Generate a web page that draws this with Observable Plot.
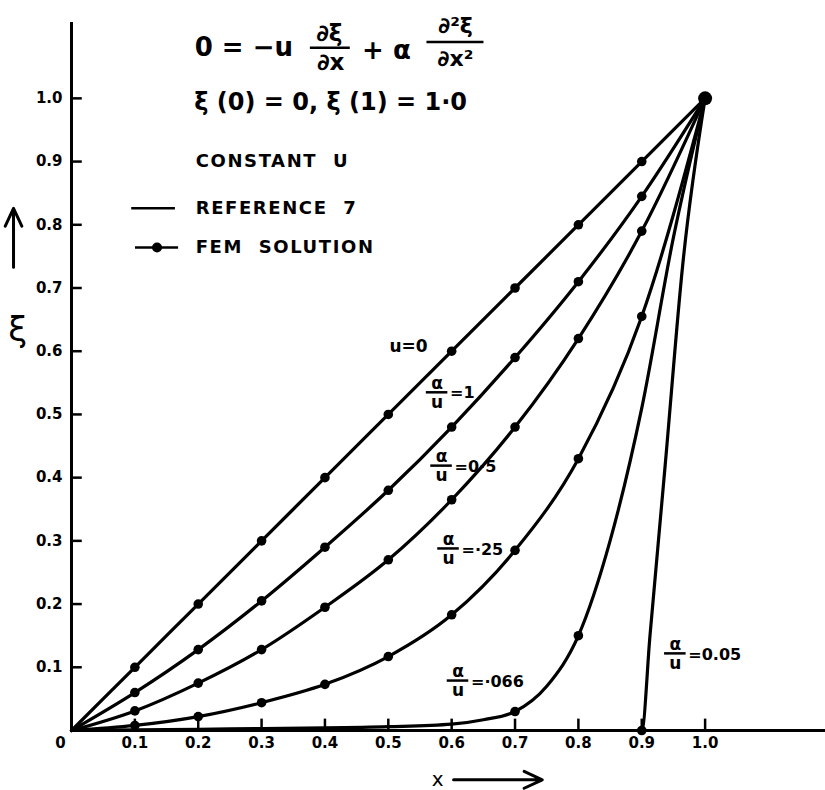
<!DOCTYPE html>
<html><head><meta charset="utf-8">
<script src="https://cdn.jsdelivr.net/npm/d3@7"></script>
<script src="https://cdn.jsdelivr.net/npm/@observablehq/plot@0.6"></script>
<style>body{margin:0;background:#fff}</style>
</head><body><div id="chart"></div>
<script>
// ---- data ----
const xGrid   = [0, 0.1, 0.2, 0.3, 0.4, 0.5, 0.6, 0.7, 0.8, 0.9, 1.0];
const xiU0    = [0, 0.1, 0.2, 0.3, 0.4, 0.5, 0.6, 0.7, 0.8, 0.9, 1.0];
const xiR1    = [0, 0.06, 0.128, 0.205, 0.29, 0.38, 0.48, 0.59, 0.71, 0.845, 1.0];
const xiR05   = [0, 0.031, 0.075, 0.128, 0.195, 0.27, 0.365, 0.48, 0.62, 0.79, 1.0];
const xiR025  = [0, 0.008, 0.022, 0.044, 0.073, 0.117, 0.183, 0.285, 0.43, 0.655, 1.0];
const x066    = [0, 0.1, 0.2, 0.3, 0.4, 0.5, 0.6, 0.65, 0.7, 0.75, 0.8, 0.85, 0.9, 0.95, 1.0];
const xi066   = [0, 0.001, 0.002, 0.003, 0.004, 0.006, 0.01, 0.017, 0.03, 0.07, 0.15, 0.30, 0.51, 0.78, 1.0];
const x005    = [0, 0.9, 0.913, 0.937, 0.965, 1.0];
const xi005   = [0, 0, 0.15, 0.42, 0.74, 1.0];
const femGridX = [0.1, 0.2, 0.3, 0.4, 0.5, 0.6, 0.7, 0.8, 0.9];
const fem066X  = [0.7, 0.8];
const fem005X  = [0.9];
const xTicks = [0.1, 0.2, 0.3, 0.4, 0.5, 0.6, 0.7, 0.8, 0.9, 1.0];
const yTicks = [0.1, 0.2, 0.3, 0.4, 0.5, 0.6, 0.7, 0.8, 0.9, 1.0];

function series(name, xs, ys) { return xs.map((x, i) => ({curve: name, x, y: ys[i]})); }
const sU0 = series("u=0", xGrid, xiU0);
const sR1 = series("1", xGrid, xiR1);
const sR05 = series("0.5", xGrid, xiR05);
const sR025 = series("0.25", xGrid, xiR025);
const s066 = series("0.066", x066, xi066);
const s005 = series("0.05", x005, xi005);
const lines = [...sU0, ...sR1, ...sR05, ...sR025, ...s066, ...s005];
const fem = [
  ...[sU0, sR1, sR05, sR025].flatMap(s => s.filter(d => femGridX.includes(d.x))),
  ...s066.filter(d => fem066X.includes(d.x)),
  ...s005.filter(d => fem005X.includes(d.x))
];
const endPoint = sU0.filter(d => d.x === 1);

// ---- annotations (data coordinates) ----
const eqParts = [
  {x: 0.272, y: 1.080, t: "0 = −u", s: 26},
  {x: 0.407, y: 1.102, t: "∂ξ", s: 23},
  {x: 0.409, y: 1.056, t: "∂x", s: 23},
  {x: 0.497, y: 1.076, t: "+ α", s: 26},
  {x: 0.606, y: 1.114, t: "∂²ξ", s: 22},
  {x: 0.606, y: 1.062, t: "∂x²", s: 22},
  {x: 0.409, y: 0.994, t: "ξ (0) = 0, ξ (1) = 1·0", s: 24}
];
const eqBars = [
  {x1: 0.377, x2: 0.44, y: 1.080},
  {x1: 0.561, x2: 0.651, y: 1.089}
];
const legendText = [
  {x: 0.196, y: 0.900, t: "CONSTANT  U"},
  {x: 0.196, y: 0.826, t: "REFERENCE  7"},
  {x: 0.196, y: 0.764, t: "FEM  SOLUTION"}
];
const legendLines = [
  {x1: 0.095, x2: 0.164, y: 0.826},
  {x1: 0.101, x2: 0.169, y: 0.764}
];
const legendDot = [{x: 0.135, y: 0.764}];
const fracLabels = [
  {x: 0.577, y: 0.535, t: "=1"},
  {x: 0.584, y: 0.419, t: "=0·5"},
  {x: 0.595, y: 0.288, t: "=·25"},
  {x: 0.610, y: 0.079, t: "=·066"},
  {x: 0.953, y: 0.122, t: "=0.05"}
];
const plainLabels = [{x: 0.532, y: 0.608, t: "u=0"}];

const font = "DejaVu Sans";
const chart = Plot.plot({
  width: 825, height: 790,
  marginLeft: 71, marginRight: 0, marginTop: 22, marginBottom: 60,
  x: {domain: [0, 1.19]},
  y: {domain: [0, 1.12]},
  style: {fontFamily: font, fontWeight: "bold", background: "white", color: "black", overflow: "visible"},
  marks: [
    // axes
    Plot.ruleX([0], {y1: 0, y2: 1.12, strokeWidth: 3}),
    Plot.ruleY([0], {x1: 0, x2: 1.19, strokeWidth: 3}),
    Plot.ruleY(yTicks, {y: d => d, x1: 0, x2: 0.017, strokeWidth: 2.5}),
    Plot.ruleX(xTicks, {x: d => d, y1: 0, y2: 0.018, strokeWidth: 2.5}),
    Plot.axisY({ticks: yTicks, tickSize: 0, tickPadding: 9, tickFormat: d3.format(".1f"), fontSize: 15, fontWeight: "bold", label: null}),
    Plot.axisX({ticks: xTicks, tickSize: 0, tickPadding: 7, tickFormat: d3.format(".1f"), fontSize: 15, fontWeight: "bold", label: null}),
    Plot.text([{x: 0, y: 0}], {x: "x", y: "y", text: () => "0", dx: -11, dy: 13, fontSize: 15, fontWeight: "bold"}),
    // axis titles
    Plot.text([{x: -0.085, y: 0.633}], {x: "x", y: "y", text: () => "ξ", fontSize: 34, fontWeight: "normal"}),
    Plot.arrow([{x: -0.0915, y1: 0.733, y2: 0.826}], {x1: "x", x2: "x", y1: "y1", y2: "y2", strokeWidth: 3, headLength: 10, headAngle: 50}),
    Plot.text([{x: 0.578, y: -0.077}], {x: "x", y: "y", text: () => "x", fontSize: 20, fontWeight: "normal"}),
    Plot.arrow([{x1: 0.603, x2: 0.743, y: -0.078}], {x1: "x1", x2: "x2", y1: "y", y2: "y", strokeWidth: 3, headLength: 10, headAngle: 50}),
    // curves
    Plot.line(lines, {x: "x", y: "y", z: "curve", curve: "monotone-x", strokeWidth: 3.2, stroke: "black"}),
    Plot.dot(fem, {x: "x", y: "y", r: 4.8, fill: "black"}),
    Plot.dot(endPoint, {x: "x", y: "y", r: 7, fill: "black"}),
    // equation + legend
    Plot.text(eqParts, {x: "x", y: "y", text: "t", fontSize: d => d.s, fontWeight: "bold"}),
    Plot.ruleY(eqBars, {y: "y", x1: "x1", x2: "x2", strokeWidth: 2.5}),
    Plot.text(legendText, {x: "x", y: "y", text: "t", textAnchor: "start", fontSize: 18, fontWeight: "bold"}),
    Plot.ruleY(legendLines, {y: "y", x1: "x1", x2: "x2", strokeWidth: 2.5}),
    Plot.dot(legendDot, {x: "x", y: "y", r: 5, fill: "black"}),
    // curve labels
    Plot.text(plainLabels, {x: "x", y: "y", text: "t", fontSize: 17, fontWeight: "bold"}),
    Plot.text(fracLabels, {x: "x", y: "y", text: () => "α", dy: -9, fontSize: 17, fontWeight: "bold"}),
    Plot.ruleY(fracLabels, {y: "y", x1: d => d.x - 0.017, x2: d => d.x + 0.017, strokeWidth: 2.5}),
    Plot.text(fracLabels, {x: "x", y: "y", text: () => "u", dy: 10, fontSize: 17, fontWeight: "bold"}),
    Plot.text(fracLabels, {x: "x", y: "y", text: "t", dx: 13, dy: 1, textAnchor: "start", fontSize: 16, fontWeight: "bold"})
  ]
});
// widen the hand-lettered legend text a little
d3.select(chart).selectAll("text")
  .filter(function() { return legendText.some(d => d.t === this.textContent); })
  .style("letter-spacing", "1.6px");
document.getElementById("chart").appendChild(chart);
</script>
</body></html>
